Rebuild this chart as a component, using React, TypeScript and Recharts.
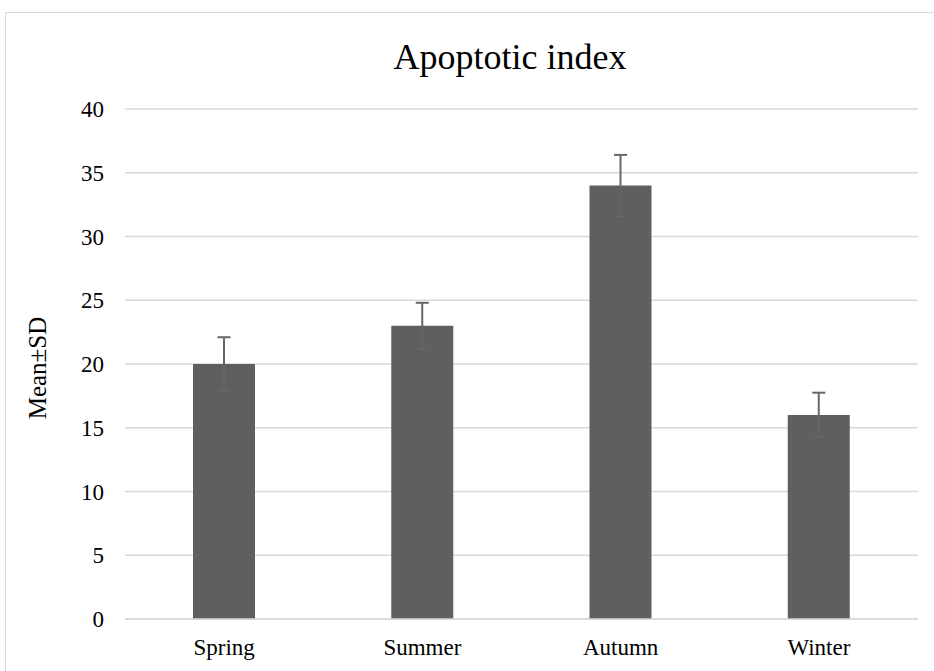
import React from 'react';
import { BarChart, Bar, XAxis, YAxis, CartesianGrid, ErrorBar, Customized } from 'recharts';

const seasons = ['Spring', 'Summer', 'Autumn', 'Winter'];
const means = [20, 23, 34, 16];
const sds = [2.1, 1.8, 2.4, 1.75];
const yTicks = [0, 5, 10, 15, 20, 25, 30, 35, 40];

const data = seasons.map((s, i) => ({ season: s, mean: means[i], sd: sds[i] }));

const FONT = '"Liberation Serif", "Times New Roman", serif';

const Title = () => (
  <text x={510} y={69} textAnchor="middle" fontFamily={FONT} fontSize={36} fill="#000">
    Apoptotic index
  </text>
);

const YLabel = () => (
  <text x={46} y={368} transform="rotate(-90 46 368)" textAnchor="middle" fontFamily={FONT} fontSize={25} fill="#000">
    Mean±SD
  </text>
);

export default function App() {
  return (
    <div style={{ position: 'absolute', left: 0, top: 0, width: 934, height: 671, background: '#fff', overflow: 'hidden' }}>
      <div style={{ position: 'absolute', left: 5, top: 12, width: 940, height: 700, borderLeft: '1px solid #d9d9d9', borderTop: '1px solid #d9d9d9' }} />
      <div style={{ position: 'absolute', left: 0, top: 0 }}>
        <BarChart width={934} height={671} data={data} margin={{ top: 109, right: 16, bottom: 22, left: 0 }}>
          <CartesianGrid vertical={false} stroke="#d9d9d9" strokeWidth={1.5} />
          <XAxis
            dataKey="season"
            axisLine={{ stroke: '#d9d9d9', strokeWidth: 1.5 }}
            tickLine={false}
            tickSize={0}
            tickMargin={20}
            tick={{ fontFamily: FONT, fontSize: 23, fill: '#000' }}
          />
          <YAxis
            width={125}
            domain={[0, 40]}
            ticks={yTicks}
            axisLine={false}
            tickLine={false}
            tickSize={0}
            tickMargin={21}
            tick={{ fontFamily: FONT, fontSize: 23, fill: '#000' }}
            label={<YLabel />}
          />
          <Bar dataKey="mean" fill="#5f5f5f" barSize={62} isAnimationActive={false}>
            <ErrorBar dataKey="sd" width={6.5} stroke="#666666" strokeWidth={2} direction="y" />
          </Bar>
          <Customized component={Title} />
        </BarChart>
      </div>
    </div>
  );
}
